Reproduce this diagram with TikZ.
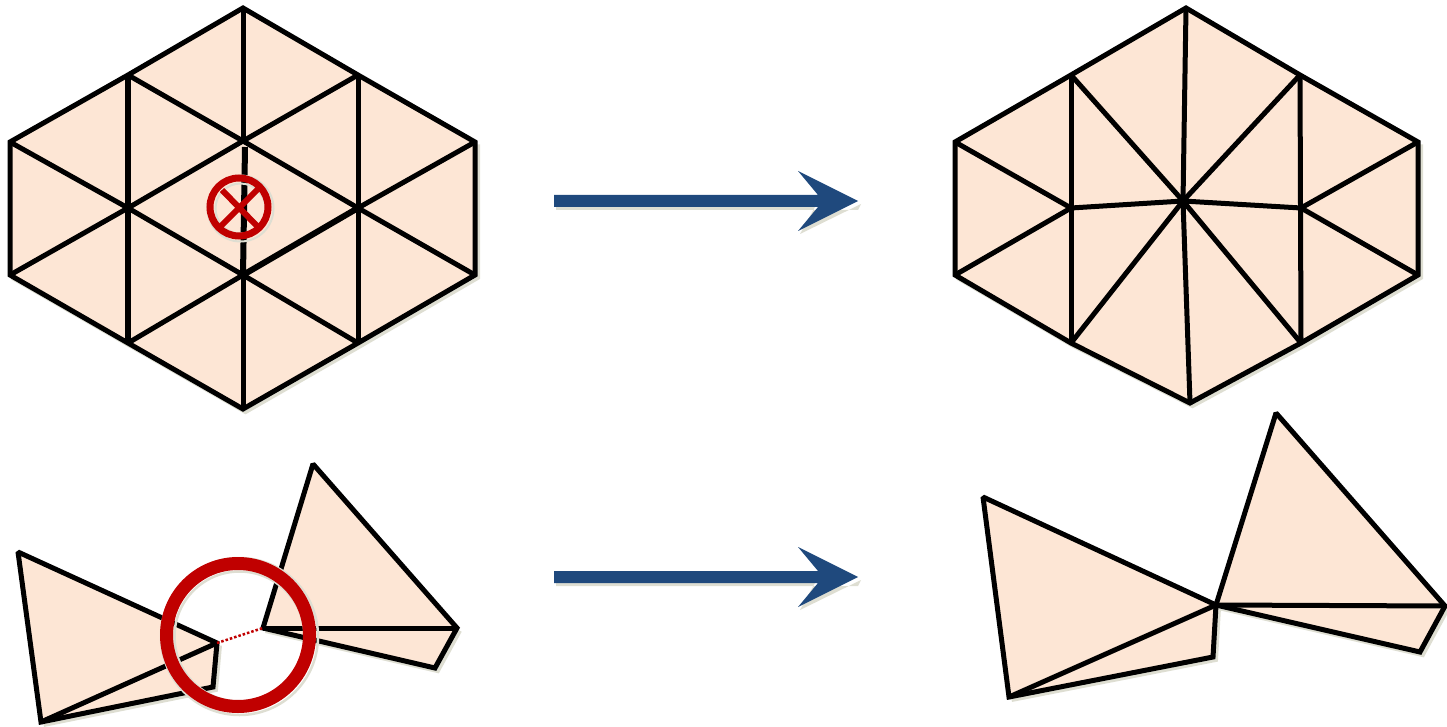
\documentclass[tikz,border=0pt]{standalone}
\usepackage{xcolor}
\usetikzlibrary{calc}
\definecolor{facefill}{HTML}{FDE6D5}
\definecolor{markred}{HTML}{C00000}
\definecolor{arrowblue}{HTML}{1F497D}
\definecolor{shadegrey}{HTML}{DEDED2}

\begin{document}
\begin{tikzpicture}[x=1pt, y=-1pt]
\tikzset{edge/.style={draw=black, line width=5pt, line join=miter, miter limit=2}}
\tikzset{face/.style={fill=facefill, draw=none}}
\tikzset{shade/.style={draw=shadegrey, line width=5pt, transform canvas={shift={(2.5pt,-2.5pt)}}}}
\tikzset{bigarrow/.style={fill=arrowblue, draw=none}}
\useasboundingbox (0,0) rectangle (1447,727);
% top left hexagon
\coordinate (lt) at (243,8); \coordinate (lur) at (358,75); \coordinate (lr1) at (475,142);
\coordinate (lr2) at (475,275); \coordinate (llr) at (358,343); \coordinate (lb) at (243,409);
\coordinate (lll) at (128,343); \coordinate (ll2) at (10,275); \coordinate (ll1) at (10,142);
\coordinate (lul) at (128,75);
\coordinate (in1) at (243,141); \coordinate (in2) at (358,208);
\coordinate (in3) at (243,275); \coordinate (in4) at (128,208);
\draw[shade] (lr1)--(lr2)--(llr)--(lb)--(lll)--(ll2);
\path[face] (lt)--(lur)--(lr1)--(lr2)--(llr)--(lb)--(lll)--(ll2)--(ll1)--(lul)--cycle;
\draw[edge] (lt)--(lur)--(lr1)--(lr2)--(llr)--(lb)--(lll)--(ll2)--(ll1)--(lul)--cycle;
\draw[edge] (lul)--(in1)--(in2)--(lr2);
\draw[edge] (lur)--(in1)--(in4)--(ll2);
\draw[edge] (ll1)--(in4)--(in3)--(llr);
\draw[edge] (lr1)--(in2);
\draw[edge, line width=6pt] (in2)--(in3);
\draw[edge] (in3)--(lll);
\draw[edge, line width=6pt] (lul)--(lll);
\draw[edge] (lur)--(llr);
\draw[edge] (lt)--(in1);
\draw[edge] (in3)--(lb);
\draw[edge, line width=6pt] (245,147)--(in3);
% mark on the removed vertex
\coordinate (xc) at (239,207);
\coordinate (x1) at (222,190); \coordinate (x2) at (257,226);
\coordinate (x3) at (258,189); \coordinate (x4) at (220,227);
\draw[shadegrey, line width=2pt] ($(xc)+(1.5,1.5)$) circle (33);
\draw[shadegrey, line width=2pt] ($(xc)+(1.5,1.5)$) circle (25);
\draw[markred, line width=7pt] (xc) circle (29);
\draw[markred, line width=6pt] (x1)--(x2);
\draw[markred, line width=6pt] (x3)--(x4);
% top right hexagon
\coordinate (rt) at (1186,8); \coordinate (rur) at (1300,75); \coordinate (rr1) at (1418,142);
\coordinate (rr2) at (1418,275); \coordinate (rlr) at (1301,343); \coordinate (rb) at (1190,403);
\coordinate (rll) at (1071,343); \coordinate (rl2) at (955,275); \coordinate (rl1) at (955,142);
\coordinate (rul) at (1071,75);
\coordinate (rc) at (1183,201); \coordinate (rin1) at (1071,208); \coordinate (rin2) at (1301,208);
\draw[shade] (rr1)--(rr2)--(rlr)--(rb)--(rll)--(rl2);
\path[face] (rt)--(rur)--(rr1)--(rr2)--(rlr)--(rb)--(rll)--(rl2)--(rl1)--(rul)--cycle;
\draw[edge] (rt)--(rur)--(rr1)--(rr2)--(rlr)--(rb)--(rll)--(rl2)--(rl1)--(rul)--cycle;
\draw[edge] (rul)--(rll);
\draw[edge] (rur)--(rlr);
\draw[edge] (rl1)--(rin1)--(rl2);
\draw[edge] (rr1)--(rin2)--(rr2);
\draw[edge] (rc)--(rt);
\draw[edge] (rc)--(rul);
\draw[edge] (rc)--(rur);
\draw[edge] (rc)--(rin1);
\draw[edge] (rc)--(rin2);
\draw[edge] (rc)--(rll);
\draw[edge] (rc)--(rb);
\draw[edge] (rc)--(rlr);
% bottom left pair
\coordinate (a) at (18,552); \coordinate (b) at (217,643); \coordinate (c) at (213,687); \coordinate (d) at (41,722);
\coordinate (e) at (263,628); \coordinate (f) at (313,464); \coordinate (g) at (457,628); \coordinate (h) at (435,668);
\draw[shade] (b)--(c)--(d);
\draw[shade] (g)--(h)--(e);
\path[face] (a)--(b)--(c)--(d)--cycle;
\path[face] (e)--(f)--(g)--(h)--cycle;
\draw[edge] (a)--(b)--(c)--(d)--cycle;
\draw[edge] (d)--(b);
\draw[edge] (e)--(f)--(g)--(h)--cycle;
\draw[edge] (e)--(g);
\draw[markred, line width=2.5pt, dotted] (b)--(e);
\coordinate (ringc) at (238,635);
\draw[shadegrey, line width=2.5pt] ($(ringc)+(1.5,1.5)$) circle (65);
\draw[shadegrey, line width=2.5pt] ($(ringc)+(1.5,1.5)$) circle (78.5);
\draw[markred, line width=13pt] (ringc) circle (71.5);
% bottom right pair
\coordinate (pa) at (983,497); \coordinate (pm) at (1216,605); \coordinate (pc) at (1213,657); \coordinate (pd) at (1009,697);
\coordinate (pf) at (1276,413); \coordinate (pg) at (1445,606); \coordinate (ph) at (1420,652);
\draw[shade] (pm)--(pc)--(pd);
\draw[shade] (pg)--(ph)--(pm);
\path[face] (pa)--(pm)--(pc)--(pd)--cycle;
\path[face] (pm)--(pf)--(pg)--(ph)--cycle;
\draw[edge] (pa)--(pm)--(pc)--(pd)--cycle;
\draw[edge] (pd)--(pm);
\draw[edge] (pm)--(pf)--(pg)--(ph)--cycle;
\draw[edge] (pm)--(pg);
% arrows
\foreach \dy in {0,376}{
  \begin{scope}[yshift=-\dy pt]
  \path[fill=shadegrey] (556,198)--(820,198)--(800,234)--(861,204)--(858,210)--(556,210)--cycle;
  \path[bigarrow] (554,195)--(818,195)--(798,171)--(858,201)--(798,231)--(818,207)--(554,207)--cycle;
  \end{scope}
}
\end{tikzpicture}
\end{document}
